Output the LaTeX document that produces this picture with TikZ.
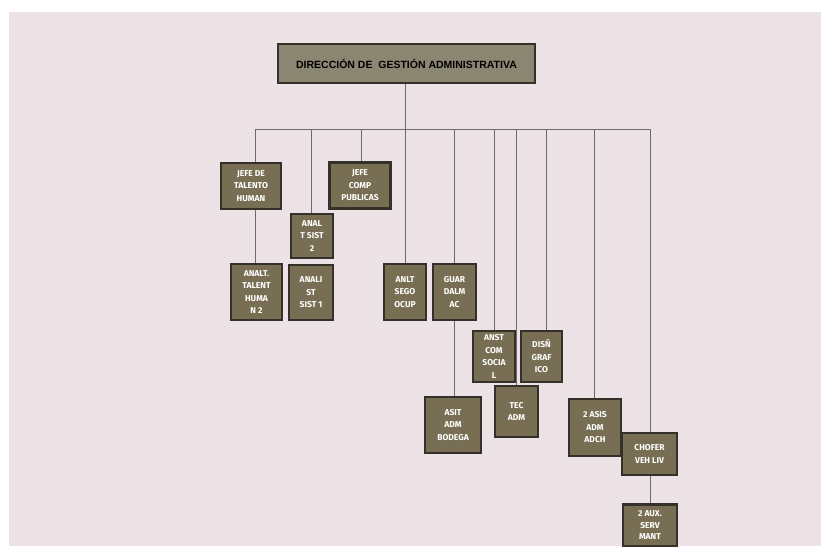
\documentclass[tikz,border=0pt]{standalone}
\usepackage{fontspec}
\setmainfont{Fira Sans}
\newfontfamily\headfont{Liberation Sans}
\usetikzlibrary{backgrounds}

\definecolor{fondo}{HTML}{EDE3E6}
\definecolor{caja}{HTML}{776E53}
\definecolor{borde}{HTML}{34312A}
\definecolor{cabeza}{HTML}{8B8672}
\definecolor{linea}{HTML}{6F6A68}

\tikzset{
	cargo/.style={draw=borde, line width=2.4pt, fill=caja, text=white,
		font=\bfseries\fontsize{8.5}{12.5}\selectfont, align=center, inner sep=0pt},
	enlace/.style={draw=linea, line width=0.8pt},
}

\begin{document}
\begin{tikzpicture}[x=1pt, y=-1pt]
	\clip (0,0) rectangle (821,546);

	% cabeza
	\node[draw=borde, line width=2.4pt, fill=cabeza, minimum width=257pt, minimum height=39pt,
		font=\headfont\bfseries\fontsize{10.5}{12}\selectfont] (direccion) at (406.5,63.5)
		{DIRECCIÓN DE\ \ GESTIÓN ADMINISTRATIVA};

	% cargos
	\node[cargo, minimum width=60pt, minimum height=46pt] (jefeth) at (251,186) {JEFE DE\\TALENTO\\HUMAN};
	\node[cargo, minimum width=61pt, minimum height=46pt] (jefecp) at (360,185.5) {JEFE\\COMP\\PUBLICAS};
	\node[cargo, minimum width=42pt, minimum height=44pt] (analsist2) at (312,236) {ANAL\\T SIST\\2};
	\node[cargo, minimum width=44pt, minimum height=55pt] (analsist1) at (311,292.5) {ANALI\\ST\\SIST 1};
	\node[cargo, minimum width=51pt, minimum height=56pt] (analtth) at (256.5,292) {ANALT.\\TALENT\\HUMA\\N 2};
	\node[cargo, minimum width=42pt, minimum height=56pt] (anltseg) at (405,292) {ANLT\\SEGO\\OCUP};
	\node[cargo, minimum width=43pt, minimum height=56pt] (guardalm) at (454.5,292) {GUAR\\DALM\\AC};
	\node[cargo, minimum width=42pt, minimum height=51pt] (anstcom) at (494,356.5) {ANST\\COM\\SOCIA\\L};
	\node[cargo, minimum width=41pt, minimum height=51pt] (disgraf) at (541.5,356.5) {DISÑ\\GRAF\\ICO};
	\node[cargo, minimum width=43pt, minimum height=51pt] (tecadm) at (516.5,411.5) {TEC\\ADM};
	\node[cargo, minimum width=56pt, minimum height=56pt] (asitbod) at (453,425) {ASIT\\ADM\\BODEGA};
	\node[cargo, minimum width=52pt, minimum height=57pt] (asisadm) at (595,427.5) {2 ASIS\\ADM\\ADCH};
	\node[cargo, minimum width=55pt, minimum height=42pt] (chofer) at (649.5,454) {CHOFER\\VEH LIV};
	\node[cargo, minimum width=54pt, minimum height=42pt,
		font=\bfseries\fontsize{8.5}{11.5}\selectfont] (auxserv) at (650,525.5) {2 AUX.\\SERV\\MANT};

	% barra
	\coordinate (BUSL) at (255,129); % bus left
	\coordinate (B2) at (311,129);
	\coordinate (B3) at (361,129);
	\coordinate (B5) at (454,129);
	\coordinate (B6) at (494,129);
	\coordinate (B7) at (516,129);
	\coordinate (B8) at (546,129);
	\coordinate (B9) at (594,129);
	\coordinate (BUSR) at (650,129); % bus right

	\begin{scope}[on background layer]
		\fill[white] (0,0) rectangle (821,546);
		\fill[fondo] (9,12) rectangle (821,546);

		\draw[enlace] (BUSL) -- (BUSR);
		\draw[enlace] (anltseg.north |- direccion.south) -- (anltseg.north);

		\draw[enlace] (BUSL) -- (BUSL |- jefeth.north);
		\draw[enlace] (BUSL |- jefeth.south) -- (BUSL |- analtth.north);
		\draw[enlace] (B2) -- (B2 |- analsist2.north);
		\draw[enlace] (B3) -- (B3 |- jefecp.north);
		\draw[enlace] (B5) -- (B5 |- guardalm.north);
		\draw[enlace] (B5 |- guardalm.south) -- (B5 |- asitbod.north);
		\draw[enlace] (B6) -- (B6 |- anstcom.north);
		\draw[enlace] (B7) -- (B7 |- tecadm.north);
		\draw[enlace] (B8) -- (B8 |- disgraf.north);
		\draw[enlace] (B9) -- (B9 |- asisadm.north);
		\draw[enlace] (BUSR) -- (BUSR |- chofer.north);
		\draw[enlace] (BUSR |- chofer.south) -- (BUSR |- auxserv.north);
	\end{scope}
\end{tikzpicture}
\end{document}
